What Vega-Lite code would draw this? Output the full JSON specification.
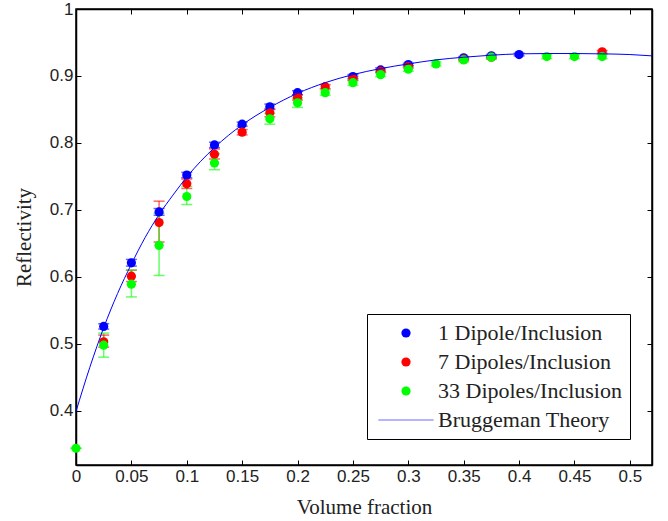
{
  "$schema": "https://vega.github.io/schema/vega-lite/v6.json",
  "width": 576,
  "height": 456,
  "autosize": {"type": "none"},
  "padding": {"left": 76, "top": 9, "right": 16, "bottom": 56},
  "background": "white",
  "config": {
    "font": "Liberation Serif",
    "view": {"stroke": "black", "strokeWidth": 1.5},
    "axis": {
      "grid": false,
      "domainColor": "black",
      "domainWidth": 1.5,
      "tickColor": "black",
      "tickSize": -5,
      "labelFlush": false,
      "labelFont": "Liberation Sans",
      "labelFontSize": 17,
      "labelColor": "#222222",
      "titleFont": "Liberation Serif",
      "titleFontSize": 21,
      "titleFontWeight": "normal",
      "titleColor": "#222222"
    },
    "legend": {
      "orient": "none",
      "legendX": 291,
      "legendY": 305,
      "strokeColor": "black",
      "fillColor": "white",
      "padding": 8,
      "labelFont": "Liberation Serif",
      "labelFontSize": 22,
      "labelColor": "#222222",
      "symbolSize": 85,
      "rowPadding": 7,
      "symbolOffset": 20,
      "labelOffset": 21,
      "labelLimit": 400
    }
  },
  "datasets": {
    "pts": [
      {"s": "1 Dipole/Inclusion", "x": 0.025, "y": 0.526, "lo": 0.522, "hi": 0.530},
      {"s": "1 Dipole/Inclusion", "x": 0.05, "y": 0.621, "lo": 0.616, "hi": 0.626},
      {"s": "1 Dipole/Inclusion", "x": 0.075, "y": 0.697, "lo": 0.692, "hi": 0.702},
      {"s": "1 Dipole/Inclusion", "x": 0.1, "y": 0.752, "lo": 0.748, "hi": 0.756},
      {"s": "1 Dipole/Inclusion", "x": 0.125, "y": 0.797, "lo": 0.793, "hi": 0.801},
      {"s": "1 Dipole/Inclusion", "x": 0.15, "y": 0.828, "lo": 0.825, "hi": 0.831},
      {"s": "1 Dipole/Inclusion", "x": 0.175, "y": 0.854, "lo": 0.850, "hi": 0.858},
      {"s": "1 Dipole/Inclusion", "x": 0.2, "y": 0.875, "lo": 0.872, "hi": 0.878},
      {"s": "1 Dipole/Inclusion", "x": 0.25, "y": 0.899, "lo": 0.896, "hi": 0.902},
      {"s": "1 Dipole/Inclusion", "x": 0.275, "y": 0.909, "lo": 0.906, "hi": 0.912},
      {"s": "1 Dipole/Inclusion", "x": 0.3, "y": 0.917, "lo": 0.915, "hi": 0.919},
      {"s": "1 Dipole/Inclusion", "x": 0.35, "y": 0.927, "lo": 0.925, "hi": 0.929},
      {"s": "1 Dipole/Inclusion", "x": 0.375, "y": 0.930, "lo": 0.928, "hi": 0.932},
      {"s": "1 Dipole/Inclusion", "x": 0.4, "y": 0.932, "lo": 0.930, "hi": 0.934},
      {"s": "7 Dipoles/Inclusion", "x": 0.025, "y": 0.503, "lo": 0.495, "hi": 0.513},
      {"s": "7 Dipoles/Inclusion", "x": 0.05, "y": 0.601, "lo": 0.593, "hi": 0.610},
      {"s": "7 Dipoles/Inclusion", "x": 0.075, "y": 0.681, "lo": 0.652, "hi": 0.713},
      {"s": "7 Dipoles/Inclusion", "x": 0.1, "y": 0.739, "lo": 0.732, "hi": 0.746},
      {"s": "7 Dipoles/Inclusion", "x": 0.125, "y": 0.783, "lo": 0.776, "hi": 0.791},
      {"s": "7 Dipoles/Inclusion", "x": 0.15, "y": 0.816, "lo": 0.812, "hi": 0.820},
      {"s": "7 Dipoles/Inclusion", "x": 0.175, "y": 0.845, "lo": 0.839, "hi": 0.851},
      {"s": "7 Dipoles/Inclusion", "x": 0.2, "y": 0.868, "lo": 0.864, "hi": 0.872},
      {"s": "7 Dipoles/Inclusion", "x": 0.225, "y": 0.884, "lo": 0.881, "hi": 0.887},
      {"s": "7 Dipoles/Inclusion", "x": 0.25, "y": 0.896, "lo": 0.893, "hi": 0.899},
      {"s": "7 Dipoles/Inclusion", "x": 0.275, "y": 0.907, "lo": 0.905, "hi": 0.909},
      {"s": "7 Dipoles/Inclusion", "x": 0.3, "y": 0.914, "lo": 0.912, "hi": 0.916},
      {"s": "7 Dipoles/Inclusion", "x": 0.35, "y": 0.925, "lo": 0.923, "hi": 0.927},
      {"s": "7 Dipoles/Inclusion", "x": 0.375, "y": 0.928, "lo": 0.926, "hi": 0.930},
      {"s": "7 Dipoles/Inclusion", "x": 0.475, "y": 0.936, "lo": 0.934, "hi": 0.938},
      {"s": "33 Dipoles/Inclusion", "x": 0, "y": 0.344, "lo": 0.344, "hi": 0.344},
      {"s": "33 Dipoles/Inclusion", "x": 0.025, "y": 0.498, "lo": 0.480, "hi": 0.516},
      {"s": "33 Dipoles/Inclusion", "x": 0.05, "y": 0.589, "lo": 0.570, "hi": 0.610},
      {"s": "33 Dipoles/Inclusion", "x": 0.075, "y": 0.647, "lo": 0.602, "hi": 0.695},
      {"s": "33 Dipoles/Inclusion", "x": 0.1, "y": 0.720, "lo": 0.708, "hi": 0.735},
      {"s": "33 Dipoles/Inclusion", "x": 0.125, "y": 0.770, "lo": 0.760, "hi": 0.784},
      {"s": "33 Dipoles/Inclusion", "x": 0.175, "y": 0.836, "lo": 0.828, "hi": 0.844},
      {"s": "33 Dipoles/Inclusion", "x": 0.2, "y": 0.860, "lo": 0.853, "hi": 0.867},
      {"s": "33 Dipoles/Inclusion", "x": 0.225, "y": 0.875, "lo": 0.871, "hi": 0.879},
      {"s": "33 Dipoles/Inclusion", "x": 0.25, "y": 0.890, "lo": 0.886, "hi": 0.894},
      {"s": "33 Dipoles/Inclusion", "x": 0.275, "y": 0.902, "lo": 0.899, "hi": 0.905},
      {"s": "33 Dipoles/Inclusion", "x": 0.3, "y": 0.910, "lo": 0.907, "hi": 0.913},
      {"s": "33 Dipoles/Inclusion", "x": 0.325, "y": 0.918, "lo": 0.915, "hi": 0.921},
      {"s": "33 Dipoles/Inclusion", "x": 0.35, "y": 0.924, "lo": 0.921, "hi": 0.927},
      {"s": "33 Dipoles/Inclusion", "x": 0.375, "y": 0.928, "lo": 0.925, "hi": 0.931},
      {"s": "33 Dipoles/Inclusion", "x": 0.425, "y": 0.929, "lo": 0.926, "hi": 0.932},
      {"s": "33 Dipoles/Inclusion", "x": 0.45, "y": 0.929, "lo": 0.926, "hi": 0.932},
      {"s": "33 Dipoles/Inclusion", "x": 0.475, "y": 0.929, "lo": 0.926, "hi": 0.932}
    ],
    "theory": [
      {"x": 0, "y": 0.399}, {"x": 0.0125, "y": 0.465}, {"x": 0.025, "y": 0.524},
      {"x": 0.0375, "y": 0.575}, {"x": 0.05, "y": 0.619}, {"x": 0.0625, "y": 0.659},
      {"x": 0.075, "y": 0.693}, {"x": 0.0875, "y": 0.722}, {"x": 0.1, "y": 0.749},
      {"x": 0.125, "y": 0.793}, {"x": 0.15, "y": 0.827}, {"x": 0.175, "y": 0.853},
      {"x": 0.2, "y": 0.874}, {"x": 0.225, "y": 0.890}, {"x": 0.25, "y": 0.902},
      {"x": 0.275, "y": 0.911}, {"x": 0.3, "y": 0.918}, {"x": 0.325, "y": 0.924},
      {"x": 0.35, "y": 0.928}, {"x": 0.375, "y": 0.931}, {"x": 0.4, "y": 0.933},
      {"x": 0.425, "y": 0.9335}, {"x": 0.45, "y": 0.9335}, {"x": 0.475, "y": 0.933},
      {"x": 0.5, "y": 0.932}, {"x": 0.52, "y": 0.930}
    ]
  },
  "layer": [
    {
      "data": {"name": "pts"},
      "layer": [
        {
          "mark": {"type": "rule", "strokeWidth": 1.5, "opacity": 0.6},
          "encoding": {
            "x": {"field": "x", "type": "quantitative", "scale": {"domain": [0, 0.52], "nice": false, "zero": false},
              "axis": {"orient": "bottom", "values": [0, 0.05, 0.1, 0.15, 0.2, 0.25, 0.3, 0.35, 0.4, 0.45, 0.5], "format": "~g", "labelPadding": 8, "title": "Volume fraction", "titlePadding": 12}},
            "y": {"field": "lo", "type": "quantitative", "scale": {"domain": [0.319, 1], "nice": false, "zero": false},
              "axis": {"orient": "left", "values": [0.4, 0.5, 0.6, 0.7, 0.8, 0.9, 1], "format": "~g", "labelPadding": 8, "title": "Reflectivity", "titlePadding": 15}},
            "y2": {"field": "hi"},
            "stroke": {"field": "s", "type": "nominal", "legend": null,
              "scale": {"domain": ["1 Dipole/Inclusion", "7 Dipoles/Inclusion", "33 Dipoles/Inclusion"], "range": ["#0000ff", "#ff0000", "#00ff00"]}}
          }
        },
        {
          "mark": {"type": "tick", "orient": "horizontal", "size": 11, "thickness": 1.5, "opacity": 0.6},
          "encoding": {
            "x": {"field": "x", "type": "quantitative"},
            "y": {"field": "lo", "type": "quantitative"},
            "fill": {"field": "s", "type": "nominal", "legend": null,
              "scale": {"domain": ["1 Dipole/Inclusion", "7 Dipoles/Inclusion", "33 Dipoles/Inclusion"], "range": ["#0000ff", "#ff0000", "#00ff00"]}}
          }
        },
        {
          "mark": {"type": "tick", "orient": "horizontal", "size": 11, "thickness": 1.5, "opacity": 0.6},
          "encoding": {
            "x": {"field": "x", "type": "quantitative"},
            "y": {"field": "hi", "type": "quantitative"},
            "fill": {"field": "s", "type": "nominal", "legend": null}
          }
        },
        {
          "mark": {"type": "point", "filled": true, "opacity": 1, "size": 85},
          "encoding": {
            "x": {"field": "x", "type": "quantitative"},
            "y": {"field": "y", "type": "quantitative"},
            "color": {"field": "s", "type": "nominal", "title": null,
              "scale": {"domain": ["1 Dipole/Inclusion", "7 Dipoles/Inclusion", "33 Dipoles/Inclusion", "Bruggeman Theory"], "range": ["#0000ff", "#ff0000", "#00ff00", "#6b6bff"]}},
            "shape": {"field": "s", "type": "nominal", "title": null,
              "scale": {"domain": ["1 Dipole/Inclusion", "7 Dipoles/Inclusion", "33 Dipoles/Inclusion", "Bruggeman Theory"], "range": ["circle", "circle", "circle", "M-6,-0.12L6,-0.12L6,0.12L-6,0.12Z"]}}
          }
        }
      ]
    },
    {
      "data": {"name": "theory"},
      "mark": {"type": "line", "stroke": "#0000ff", "strokeWidth": 1, "interpolate": "monotone"},
      "encoding": {
        "x": {"field": "x", "type": "quantitative", "scale": {"domain": [0, 0.52], "nice": false, "zero": false},
          "axis": {"orient": "top", "values": [0, 0.05, 0.1, 0.15, 0.2, 0.25, 0.3, 0.35, 0.4, 0.45, 0.5], "labels": false, "title": null}},
        "y": {"field": "y", "type": "quantitative", "scale": {"domain": [0.319, 1], "nice": false, "zero": false},
          "axis": {"orient": "right", "values": [0.4, 0.5, 0.6, 0.7, 0.8, 0.9, 1], "labels": false, "title": null}}
      }
    }
  ],
  "resolve": {"scale": {"x": "independent", "y": "independent"}}
}
